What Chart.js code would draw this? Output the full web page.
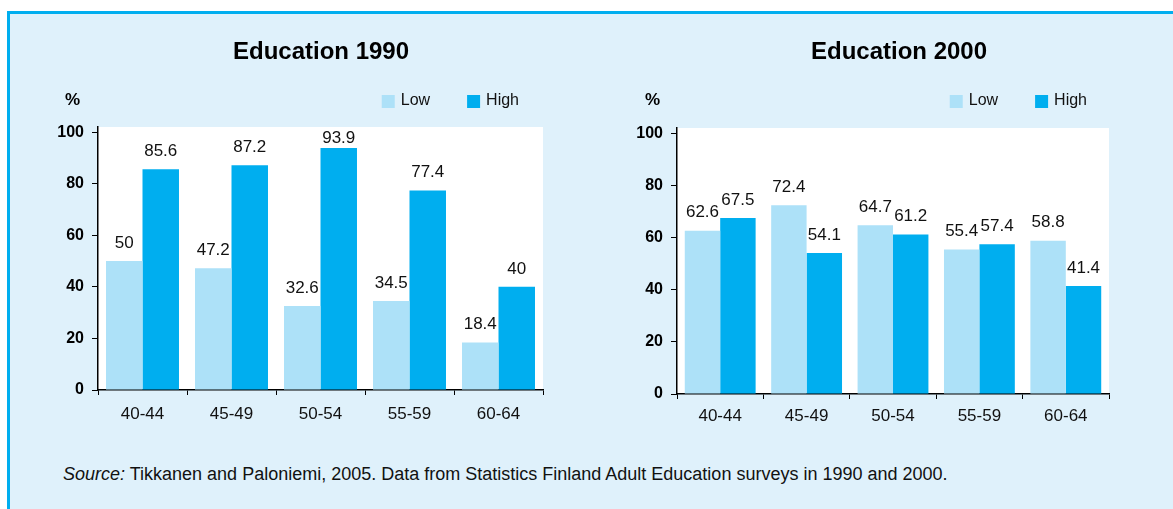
<!DOCTYPE html>
<html>
<head>
<meta charset="utf-8">
<script src="https://cdn.jsdelivr.net/npm/chart.js@4.4.1/dist/chart.umd.min.js"></script>
<style>
  body { margin: 0; width: 1173px; height: 509px; background: #fff; overflow: hidden; position: relative; }
  #panel { position: absolute; left: 7px; top: 11px; right: 0; bottom: 0; background: #dff1fb;
           border-left: 3px solid #00aeef; border-top: 3px solid #00aeef; }
  canvas { position: absolute; }
  #c1990 { left: 20px; top: 20px; }
  #c2000 { left: 600px; top: 20px; }
  #source { position: absolute; left: 63px; top: 464px; font-size: 18px; color: #111;
            font-family: "Liberation Sans", Arial, sans-serif; }
</style>
</head>
<body>
<div id="panel"></div>
<canvas id="c1990" width="540" height="420"></canvas>
<canvas id="c2000" width="540" height="424"></canvas>
<div id="source"><i>Source:</i> Tikkanen and Paloniemi, 2005. Data from Statistics Finland Adult Education surveys in 1990 and 2000.</div>
<script>
// data
const ageGroups = ['40-44', '45-49', '50-54', '55-59', '60-64'];
const seriesNames = ['Low', 'High'];
const low1990 = [50, 47.2, 32.6, 34.5, 18.4];
const high1990 = [85.6, 87.2, 93.9, 77.4, 40];
const low2000 = [62.6, 72.4, 64.7, 55.4, 58.8];
const high2000 = [67.5, 54.1, 61.2, 57.4, 41.4];
const yTicks = [0, 20, 40, 60, 80, 100];

const LOW_COLOR = '#ade1f8';
const HIGH_COLOR = '#00aeef';
const FONT = '"Liberation Sans", Arial, sans-serif';

// white plot area, value labels, title, % and legend
const decor = {
    id: 'decor',
    beforeDraw(chart) {
        const a = chart.chartArea, ctx = chart.ctx;
        ctx.save();
        ctx.fillStyle = '#fff';
        ctx.fillRect(a.left, a.top, a.right - a.left, a.bottom - a.top);
        ctx.restore();
    },
    afterDatasetsDraw(chart) {
        const a = chart.chartArea, ctx = chart.ctx;
        ctx.save();
        ctx.font = '17px ' + FONT;
        ctx.fillStyle = '#111';
        ctx.textAlign = 'center';
        ctx.textBaseline = 'middle';
        chart.data.datasets.forEach((ds, i) => {
            chart.getDatasetMeta(i).data.forEach((bar, j) => {
                const y = Math.max(bar.y - 18, a.top + 11);
                ctx.fillText(String(ds.data[j]), bar.x, y);
            });
        });
        ctx.restore();
    },
    afterDraw(chart, args, opts) {
        const a = chart.chartArea, ctx = chart.ctx;
        ctx.save();
        ctx.fillStyle = '#000';
        ctx.textBaseline = 'middle';
        // title
        ctx.font = 'bold 24px ' + FONT;
        ctx.textAlign = 'center';
        ctx.fillText(opts.title, opts.titleX, 32);
        // % label
        ctx.font = 'bold 17px ' + FONT;
        ctx.textAlign = 'left';
        ctx.fillText('%', 45, 80);
        // legend, right aligned
        ctx.font = '16px ' + FONT;
        const box = 13, gap = 6, between = 37;
        let x = a.right - opts.legendGap;
        const items = chart.data.datasets.slice().reverse();
        items.forEach((ds) => {
            const w = ctx.measureText(ds.label).width;
            x -= w;
            ctx.fillStyle = '#111';
            ctx.fillText(ds.label, x, 81);
            x -= gap + box;
            ctx.fillStyle = ds.backgroundColor;
            ctx.fillRect(x, 75, box, box);
            x -= between;
        });
        ctx.restore();
    }
};

function makeChart(id, low, high, title, titleX, padRight, padTop, yWidth, legendGap, xPad) {
    return new Chart(document.getElementById(id), {
        type: 'bar',
        data: {
            labels: ageGroups,
            datasets: [
                { label: seriesNames[0], data: low, backgroundColor: LOW_COLOR, borderWidth: 0,
                  categoryPercentage: 0.82, barPercentage: 1.0 },
                { label: seriesNames[1], data: high, backgroundColor: HIGH_COLOR, borderWidth: 0,
                  categoryPercentage: 0.82, barPercentage: 1.0 }
            ]
        },
        options: {
            responsive: false,
            animation: false,
            devicePixelRatio: 1,
            layout: { padding: { top: padTop, right: padRight, left: 0, bottom: 0 } },
            plugins: {
                legend: { display: false },
                title: { display: false },
                tooltip: { enabled: false },
                decor: { title: title, titleX: titleX, legendGap: legendGap }
            },
            scales: {
                x: {
                    grid: { offset: true, drawOnChartArea: false, drawTicks: true, tickLength: 5, color: '#000', lineWidth: 1 },
                    border: { display: true, color: '#000', width: 1.5 },
                    ticks: { color: '#111', padding: xPad, font: { family: FONT, size: 17 } },
                    afterFit(scale) { scale.height = 50; }
                },
                y: {
                    min: 0,
                    max: 102,
                    afterBuildTicks(scale) { scale.ticks = yTicks.map(v => ({ value: v })); },
                    grid: { drawOnChartArea: false, drawTicks: true, tickLength: 6, color: '#000', lineWidth: 1 },
                    border: { display: true, color: '#000', width: 1.5 },
                    ticks: { color: '#000', padding: 8, font: { family: FONT, size: 16, weight: 'bold' } },
                    afterFit(scale) { scale.width = yWidth; }
                }
            }
        },
        plugins: [decor]
    });
}

makeChart('c1990', low1990, high1990, 'Education 1990', 301, 17, 107, 78, 24, 9);
makeChart('c2000', low2000, high2000, 'Education 2000', 299, 31, 108, 77, 22, 7);
</script>
</body>
</html>
